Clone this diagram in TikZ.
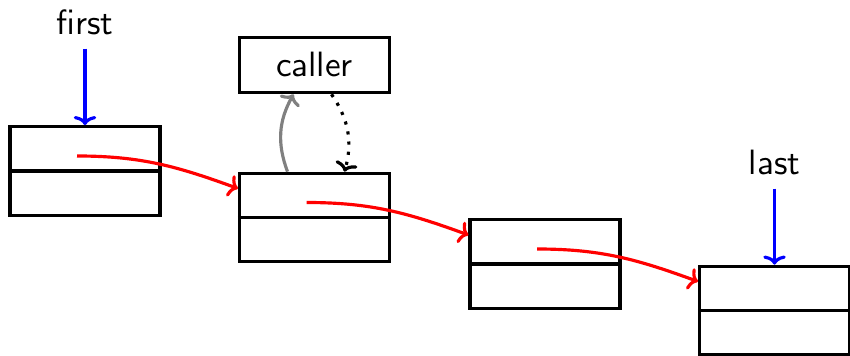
\documentclass[tikz,border=0pt]{standalone}
\usetikzlibrary{arrows.meta,calc}
\begin{document}
\begin{tikzpicture}[font=\sffamily,>={To[width=6.4pt,length=2.6pt]},
  every path/.style={line width=0.9pt},
  cell/.style={draw,line width=0.9pt,minimum width=15mm,minimum height=8.85mm,inner sep=0pt},
  nxt/.style={->,red},
  ptr/.style={->,blue}]
  \useasboundingbox (0,0) rectangle (8.5,3.56);
  % the list cells, each one a step down and to the right
  \node[cell] (b1) at (0.85,1.85) {};
  \node[cell] (b2) at (3.145,1.385) {};
  \node[cell] (b3) at (5.45,0.92) {};
  \node[cell] (b4) at (7.745,0.455) {};
  \foreach \c in {b1,b2,b3,b4} { \draw (\c.west) -- (\c.east); }
  % next links
  \foreach \a/\b in {b1/b2,b2/b3,b3/b4}
    \draw[nxt] ($(\a.center)+(-0.08,0.15)$) to[out=0,in=160] ($(\b.west)+(0,0.29)$);
  % head and tail pointers
  \node[anchor=base] (first) at (0.85,3.21) {first};
  \node[anchor=base] (last) at (7.745,1.81) {last};
  \draw[ptr] (first.south) -- (b1.north);
  \draw[ptr] (last.south) -- (b4.north);
  % the caller box above the second cell
  \node[cell,minimum height=5.55mm] (caller) at (3.145,2.91) {caller};
  \draw[->,gray] ($(b2.north)+(-0.27,0)$) to[bend left=25] ($(caller.south)+(-0.21,0)$);
  \draw[->,dotted] ($(caller.south)+(0.17,0)$) to[bend left=25] ($(b2.north)+(0.3,0)$);
\end{tikzpicture}
\end{document}
